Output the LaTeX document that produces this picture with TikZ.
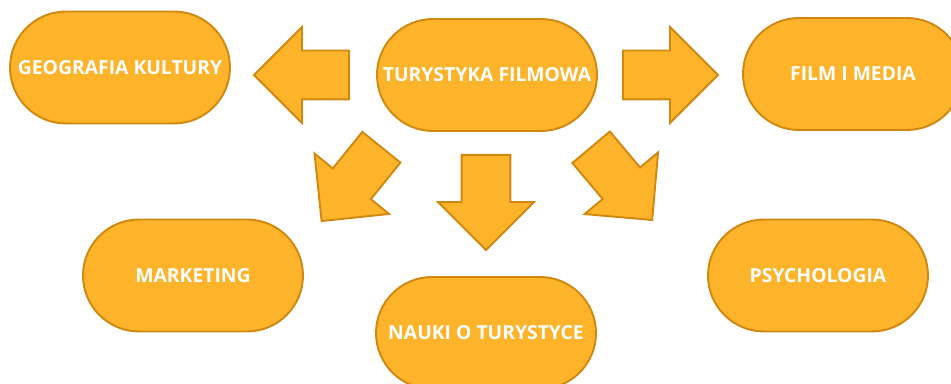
\documentclass[tikz,border=0pt]{standalone}
\usepackage{xcolor}
\usepackage{fontspec}
\setsansfont{Open Sans}
\usepackage{tikz}
\usetikzlibrary{positioning}
\usetikzlibrary{shapes.arrows}

\begin{document}
\begin{tikzpicture}
    [x=0.02cm,y=-0.02cm,%%%%%%%%%%%%%%%%%%%%%%%%%%%%%%
        box/.style={rectangle,rounded corners=1.12cm,draw=bordo,fill=zolty,line width=1.1pt,
            minimum width=4.4cm,minimum height=2.24cm,text=white,
            font=\sffamily\bfseries\fontsize{11}{13}\selectfont},
        blockarrow/.style={single arrow,draw=bordo,fill=zolty,line width=1.1pt,
            inner sep=0.47cm,single arrow head extend=0.47cm,single arrow tip angle=90,
            minimum height=1.9cm,anchor=tail}
    ]%%%%%%%%%%%%%%%%%%%%%%%%%%%%%%
\definecolor{zolty}{RGB}{253,180,43}
\definecolor{bordo}{RGB}{209,136,16}
\useasboundingbox (0,0) rectangle (951,384);

\node[box] (geo) at (120,67.5){GEOGRAFIA KULTURY};
\node[box] (tur) at (487,75){TURYSTYKA FILMOWA};
\node[box] (film) at (853,74){FILM I MEDIA};
\node[box] (mark) at (193,275.5){MARKETING};
\node[box] (nauki) at (486,333){NAUKI O TURYSTYCE};
\node[box] (psych) at (818,275.5){PSYCHOLOGIA};

\foreach \n/\x/\y/\a in {strL/350/75/180, strR/622/75/0, strD/486/154/-90,
                         strDL/382/146.5/-129, strDR/590.5/146.5/-50}{
    \node[blockarrow,rotate=\a] (\n) at (\x,\y){};
}

\end{tikzpicture}
\end{document}
